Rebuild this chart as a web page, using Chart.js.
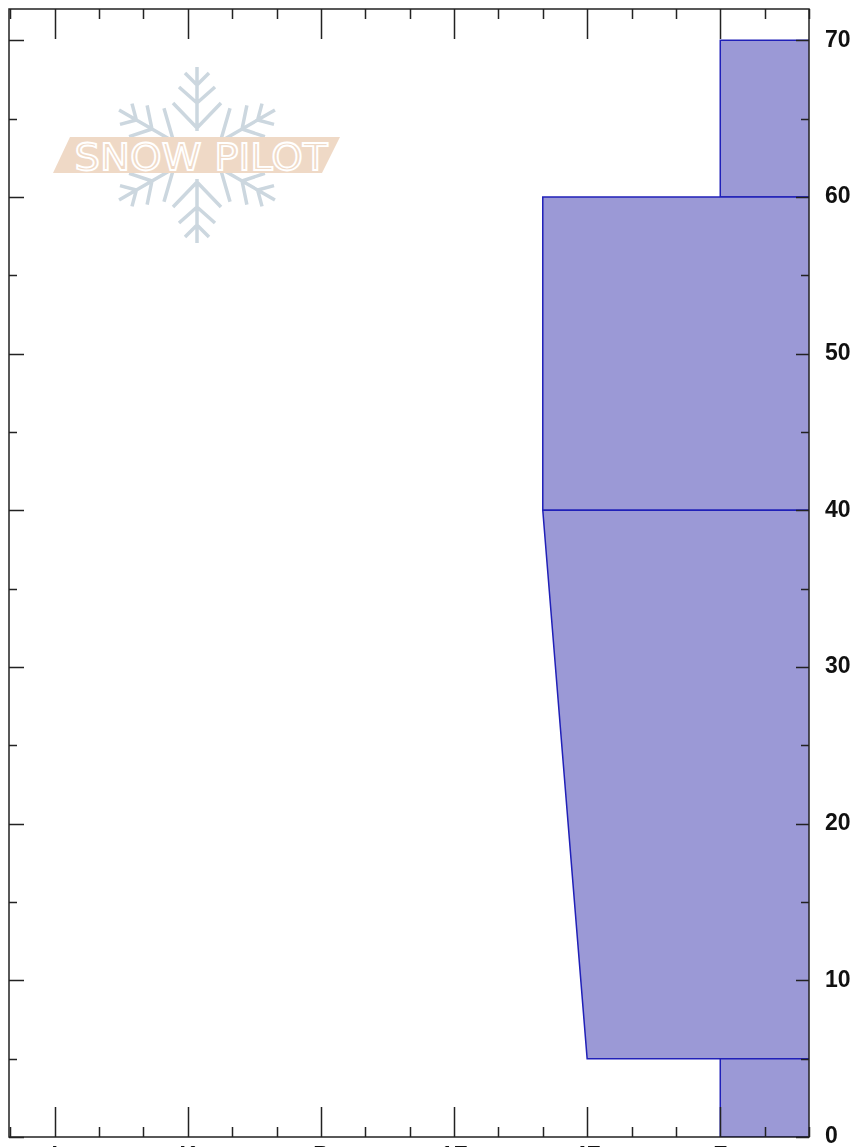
<!DOCTYPE html>
<html>
<head>
<meta charset="utf-8">
<style>
  html, body { margin: 0; padding: 0; background: #fff; overflow: hidden; }
  #wrap { position: relative; width: 859px; height: 1147px; overflow: hidden; }
  #logo { position: absolute; left: 0; top: 0; }
  #box { position: absolute; left: 0; top: 0; width: 859px; height: 1180px; }
</style>
</head>
<body>
<div id="wrap">
  <svg id="logo" width="859" height="300">
    <g id="flake" stroke="#ccd7df" stroke-width="3.5" fill="none"></g>
    <polygon points="70,137 340,137 322,173 53,173" fill="#efd9c6"/>
    <text x="201" y="170" text-anchor="middle" font-family="DejaVu Sans" font-size="38" textLength="253" lengthAdjust="spacingAndGlyphs" fill="#efd9c6" stroke="#fff" stroke-width="1.8">SNOW PILOT</text>
  </svg>
  <div id="box"><canvas id="profile"></canvas></div>
</div>
<script src="https://cdn.jsdelivr.net/npm/chart.js@4"></script>
<script>
// hand hardness positions, one unit = one third of a hardness step
const hardnessLabels = ["I", "K", "P", "1F", "4F", "F"];
const hardnessTicks = [0, 3, 6, 9, 12, 15];
const depthTicks = [0, 10, 20, 30, 40, 50, 60, 70];

// layers from the ground up
const layerBottom = [0, 5, 40, 60];
const layerTop = [5, 40, 60, 70];
const hardnessBottom = [15, 12, 11, 15];
const hardnessTop = [15, 11, 11, 15];
const rightEdge = 17;

// small snowflake behind the labels
const flake = document.getElementById("flake");
let flakePath = "";
for (let a = 0; a < 6; a++) {
  const len = a % 3 === 0 ? 88 : 90;
  flakePath += `<g transform="translate(197 155) rotate(${a * 60})">
    <path d="M0 -24V-${len} M-24 -52L0 -27L24 -52 M-18 -68L0 -52L18 -68 M-12 -82L0 -70L12 -82"/></g>`;
}
flake.innerHTML = flakePath;

const inwardTicks = {
  id: "inwardTicks",
  afterDraw(chart) {
    const { ctx, chartArea, scales } = chart;
    const { left, right, top, bottom } = chartArea;
    ctx.save();
    ctx.strokeStyle = "#222";
    ctx.lineWidth = 1.5;
    ctx.strokeRect(left, top, right - left, bottom - top);
    ctx.beginPath();
    for (let v = -1; v <= rightEdge; v++) {
      const x = Math.round(scales.x.getPixelForValue(v)) + 0.5;
      const len = hardnessTicks.includes(v) ? 30 : 10;
      ctx.moveTo(x, top);
      ctx.lineTo(x, top + len);
      ctx.moveTo(x, bottom);
      ctx.lineTo(x, bottom - len);
    }
    for (let v = 0; v <= 70; v += 5) {
      const y = Math.round(scales.y.getPixelForValue(v)) + 0.5;
      const major = depthTicks.includes(v);
      ctx.moveTo(left, y);
      ctx.lineTo(left + (major ? 15 : 8), y);
      ctx.moveTo(right, y);
      ctx.lineTo(right - (major ? 13 : 8), y);
    }
    ctx.stroke();
    ctx.restore();
  }
};

const datasets = layerBottom.map((b, i) => ({
  data: [
    { x: rightEdge, y: b },
    { x: hardnessBottom[i], y: b },
    { x: hardnessTop[i], y: layerTop[i] },
    { x: rightEdge, y: layerTop[i] }
  ],
  showLine: true,
  fill: "shape",
  tension: 0,
  pointRadius: 0,
  borderColor: "#2020b8",
  borderWidth: 1.5,
  backgroundColor: "#9b99d6"
}));

new Chart(document.getElementById("profile"), {
  type: "scatter",
  data: { datasets },
  plugins: [inwardTicks],
  options: {
    responsive: true,
    maintainAspectRatio: false,
    animation: false,
    layout: { autoPadding: false, padding: { left: 9, top: 9, right: 0, bottom: 0 } },
    plugins: { legend: { display: false }, tooltip: { enabled: false } },
    scales: {
      x: {
        type: "linear",
        min: -1.03,
        max: rightEdge,
        afterBuildTicks: scale => { scale.ticks = hardnessTicks.map(value => ({ value })); },
        afterFit: scale => { scale.height = 43; scale.paddingLeft = 0; scale.paddingRight = 0; },
        grid: { display: false, drawTicks: false },
        border: { display: false },
        ticks: {
          autoSkip: false,
          maxRotation: 0,
          padding: 6,
          color: "#111",
          font: { family: "Liberation Sans", weight: "bold", size: 23 },
          callback: value => hardnessLabels[hardnessTicks.indexOf(value)]
        }
      },
      y: {
        type: "linear",
        position: "right",
        min: 0,
        max: 72,
        afterBuildTicks: scale => { scale.ticks = depthTicks.map(value => ({ value })); },
        afterFit: scale => { scale.width = 50; scale.paddingTop = 0; scale.paddingBottom = 0; },
        grid: { display: false, drawTicks: false },
        border: { display: false },
        ticks: {
          autoSkip: false,
          padding: 16,
          color: "#111",
          font: { family: "Liberation Sans", weight: "bold", size: 23 }
        }
      }
    }
  }
});
</script>
</body>
</html>
